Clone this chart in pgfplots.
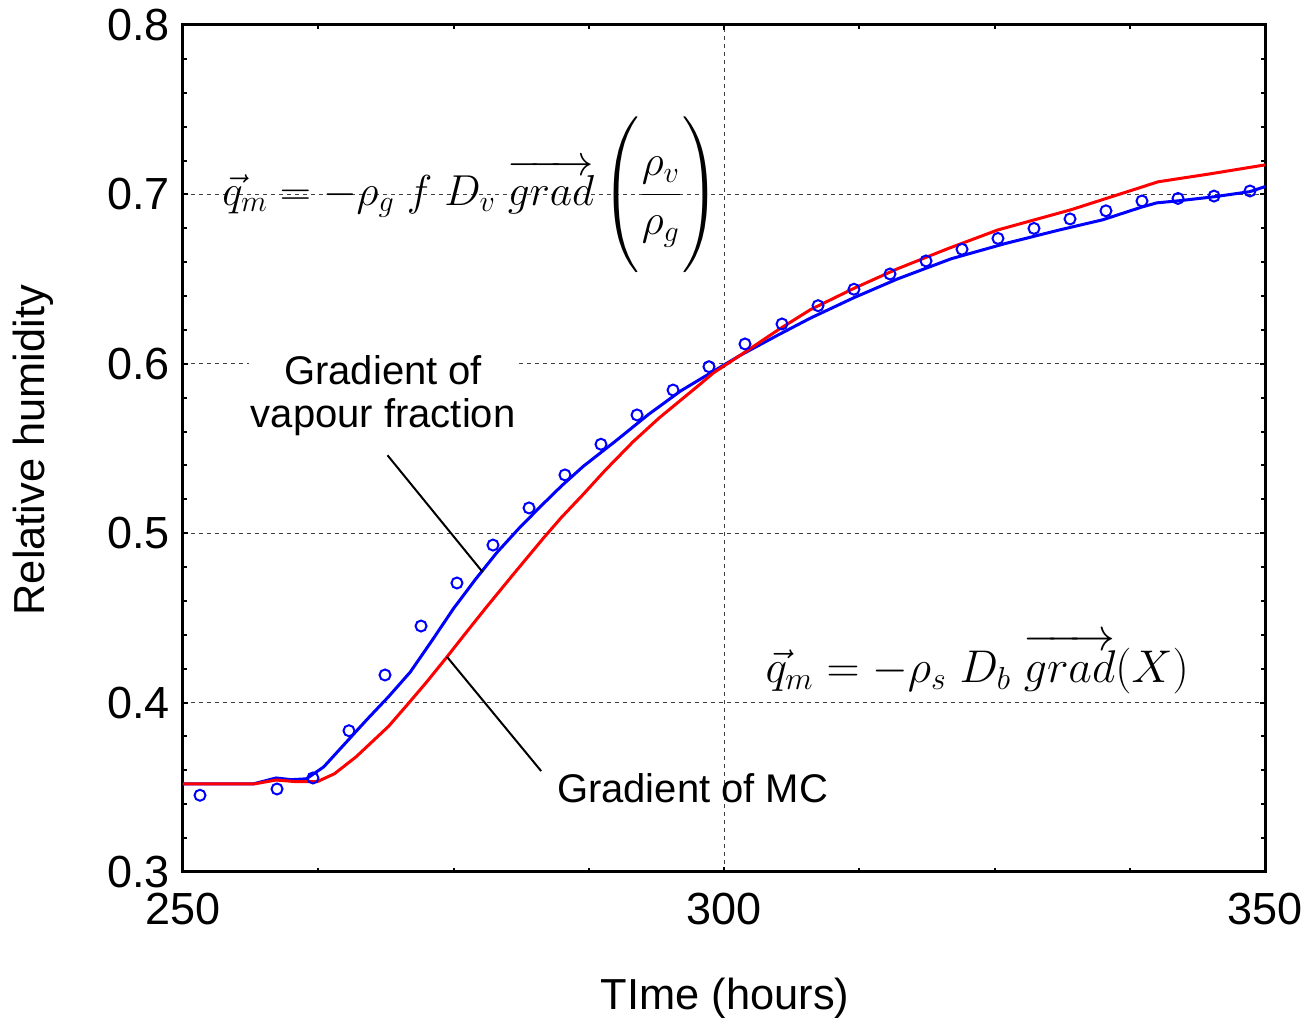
\documentclass[border=0pt]{standalone}
\usepackage{amsmath}
\usepackage{pgfplots}
\pgfplotsset{compat=1.18}
\usepackage{pgfplotstable}
\usepackage{fontspec}
\setmainfont{Liberation Sans}
\pgfplotstableread{
x y
250 0.352
256.5 0.352
258.6 0.3555
260 0.3545
261.4 0.355
263 0.362
265 0.376
267 0.390
269 0.4035
271 0.418
273 0.4365
275 0.4555
277 0.4725
279 0.4885
281 0.5025
283 0.5155
285 0.528
287 0.5395
290 0.5545
293 0.570
296 0.584
299 0.5955
301.5 0.605
305 0.617
308 0.627
312 0.639
316 0.650
321 0.662
326 0.671
331 0.679
335 0.685
338.6 0.6925
340 0.695
342 0.6962
345.3 0.6986
348.6 0.7016
350 0.7046
}\bluecurve
\pgfplotstableread{
x y
250 0.352
256.6 0.352
258.6 0.3543
260.5 0.3533
262.4 0.3533
264 0.358
266 0.368
267.6 0.3776
269 0.386
270.7 0.3985
272.5 0.412
274.4 0.427
276 0.440
278 0.456
280.5 0.4755
283.3 0.497
285 0.5095
287 0.523
289 0.537
291.6 0.554
294 0.568
297.8 0.588
299 0.5945
301.5 0.605
305 0.620
308 0.632
312 0.6445
316 0.656
320.7 0.668
325.3 0.679
332 0.6908
338.7 0.7045
340.1 0.7074
345 0.7122
350 0.7174
}\redcurve
\pgfplotstableread{
x y
251.57 0.3453
258.69 0.3490
262.01 0.3555
265.34 0.3834
268.67 0.4163
272.00 0.4452
275.32 0.4706
278.65 0.4930
281.98 0.5149
285.30 0.5344
288.63 0.5525
291.96 0.5698
295.29 0.5845
298.61 0.5983
301.94 0.6117
305.36 0.6235
308.69 0.6343
312.01 0.6440
315.34 0.6530
318.67 0.6607
322.00 0.6676
325.32 0.6740
328.65 0.6799
331.98 0.6855
335.30 0.6903
338.63 0.6961
341.96 0.6976
345.29 0.6990
348.61 0.7020
}\measured
\begin{document}
\begin{tikzpicture}
\useasboundingbox (-91.5pt,-74pt) rectangle (561pt,436pt);
\begin{axis}[
  scale only axis,
  width=541pt, height=423.5pt,
  at={(0,0)}, anchor=south west,
  xmin=250, xmax=350, ymin=0.3, ymax=0.8,
  xtick={250,300,350},
  ytick={0.3,0.4,0.5,0.6,0.7,0.8},
  minor x tick num=3,
  minor y tick num=4,
  tick align=inside,
  major tick length=2.5pt,
  minor tick length=2pt,
  every tick/.style={black, line width=1pt},
  axis line style={line width=1.5pt},
  xmajorgrids, ymajorgrids,
  major grid style={black!75, line width=0.5pt, dash pattern=on 2pt off 2pt},
  /pgf/number format/assume math mode=true,
  yticklabel style={/pgf/number format/fixed, /pgf/number format/precision=1, /pgf/number format/fixed zerofill, xshift=-3pt},
  xticklabel style={yshift=-7pt},
  tick label style={font=\fontsize{22.5}{27}\selectfont},
  clip=false,
]
\addplot[blue, line width=1.5pt] table {\bluecurve};
\addplot[red, line width=1.5pt] table {\redcurve};
\addplot[only marks, mark=o, mark size=2.75pt, blue, mark options={line width=1pt, fill=white}] table {\measured};

\draw[black, line width=1pt] (axis cs:268.9,0.546) -- (axis cs:277.7,0.477);
\draw[black, line width=1pt] (axis cs:274.4,0.427) -- (axis cs:283.1,0.3596);

\node[fill=white, inner sep=1pt, align=center, font=\fontsize{20}{21.5}\selectfont] at (axis cs:268.5,0.581) {Gradient of\\vapour fraction};
\node[font=\fontsize{20}{24}\selectfont] at (axis cs:297.1,0.3496) {Gradient of MC};

\node[anchor=west, inner sep=0pt, scale=1.043, font=\fontsize{20.74}{25}\selectfont] at (axis cs:253.6,0.7)
  {$\vec{q}_m = -\rho_g\; f\; D_v\; \overrightarrow{grad}\left(\rule[-30pt]{0pt}{71pt}\dfrac{\rho_v}{\rho_g}\right)$};
\node[anchor=west, inner sep=0pt, scale=1.105, font=\fontsize{20.74}{25}\selectfont] at (axis cs:303.8,0.423)
  {$\vec{q}_m = -\rho_s\; D_b\; \overrightarrow{grad}(X)$};

\node[rotate=90, font=\fontsize{21.7}{26}\selectfont] at (axis description cs:-0.1386,0.498) {Relative humidity};
\node[font=\fontsize{21.7}{26}\selectfont] at (axis description cs:0.501,-0.1488) {TIme (hours)};
\end{axis}
\end{tikzpicture}
\end{document}
